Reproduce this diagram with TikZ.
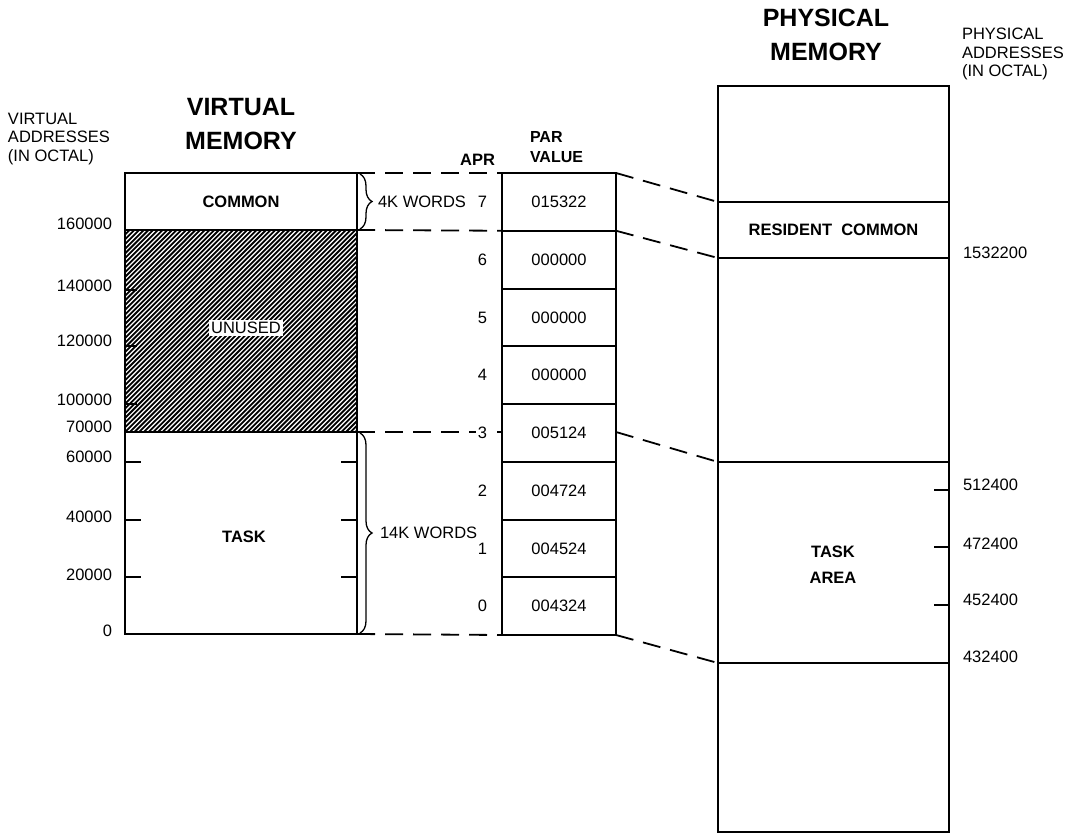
\documentclass[tikz,border=0pt]{standalone}
\usepackage{fontspec}
\setmainfont{Liberation Sans}
\usetikzlibrary{calc,decorations.pathreplacing}
\begin{document}
\begin{tikzpicture}[x=1pt,y=-1pt,
  every node/.style={inner sep=0pt, outer sep=0pt},
  txt/.style={font=\fontsize{16.5}{18}\selectfont},
  btxt/.style={font=\fontsize{16.5}{26}\selectfont\bfseries, align=center},
  head/.style={font=\fontsize{25}{34}\selectfont\bfseries, align=center},
  note/.style={font=\fontsize{16.5}{18.5}\selectfont, align=left},
  outer/.style={draw, line width=2.6pt},
  cell/.style={draw, line width=2pt, anchor=north west},
  conn/.style={line width=1.8pt, dash pattern=on 18pt off 10pt},
  tick/.style={line width=2pt},
  brc/.style={line width=1.3pt, decorate, decoration={brace, amplitude=12pt}}]
\useasboundingbox (0,0) rectangle (1067,837);

% ---------- virtual memory ----------
\node[cell, minimum width=232pt, minimum height=57pt] (common) at (125,173) {};
\node[cell, minimum width=232pt, minimum height=202pt] (unused) at (125,230) {};
\node[cell, minimum width=232pt, minimum height=202pt] (task) at (125,432) {};
\begin{scope}
  \clip (unused.south west) rectangle (unused.north east);
  \foreach \i in {0,...,95} {
    \draw[line width=1.8pt] ({125-202+\i*4.7},432) -- ++(202,-202);
  }
\end{scope}
\draw[outer] (common.north west) rectangle (task.south east);
\draw[line width=2pt] (common.south west) -- (common.south east);
\draw[line width=2pt] (task.north west) -- (task.north east);
\node[btxt] (commontxt) at (241,202) {COMMON};
\node[btxt, fill=white, inner sep=2pt] (unusedtxt) at (246,328) {\mdseries UNUSED};
\node[btxt] (tasktxt) at (244,537) {TASK};

% ticks
\foreach \yy in {290,346,404} \draw[tick] (125,\yy) -- (137,\yy);
\foreach \yy in {462,520,577} {
  \draw[tick] (125,\yy) -- (141,\yy);
  \draw[tick] (341,\yy) -- (357,\yy);
}

% virtual address labels
\foreach \t/\yy in {160000/224,140000/286,120000/341,100000/400,70000/427,60000/457,40000/517,20000/575,0/631}
  \node[txt, anchor=east] at (112,\yy) {\t};

\node[note, anchor=north west] (vaddr) at (8,113) {VIRTUAL\\ADDRESSES\\(IN OCTAL)};
\node[head] (vmem) at (241,124) {VIRTUAL\\MEMORY};

% ---------- PAR column ----------
\foreach \k/\v [count=\r from 0] in {7/015322,6/000000,5/000000,4/000000,3/005124,2/004724,1/004524,0/004324} {
  \node[cell, minimum width=114pt, minimum height=57.75pt, line width=2pt] (par\k) at (502,{173+57.75*\r}) {};
  \node[txt] (parv\k) at (par\k.center) {\v};
}
\draw[outer] (par7.north west) rectangle (par0.south east);

\node[btxt, anchor=east] (aprhd) at (495,160) {APR};
\node[btxt, anchor=north west, align=left, font=\fontsize{16}{20}\selectfont\bfseries] (parhd) at (530,131) {PAR\\VALUE};

% ---------- physical memory ----------
\node[cell, minimum width=231pt, minimum height=116pt] (phtop) at (718,86) {};
\node[cell, minimum width=231pt, minimum height=56pt] (rescommon) at (718,202) {};
\node[cell, minimum width=231pt, minimum height=204pt] (phmid) at (718,258) {};
\node[cell, minimum width=231pt, minimum height=201pt] (taskarea) at (718,462) {};
\node[cell, minimum width=231pt, minimum height=169pt] (phbot) at (718,663) {};
\draw[outer] (phtop.north west) rectangle (phbot.south east);
\node[btxt] at (rescommon.center) {RESIDENT\ \ COMMON};
\node[btxt] at (833,565) {TASK\\AREA};
\foreach \yy in {490,547,605} \draw[tick] (949,\yy) -- (934,\yy);

\foreach \t/\yy in {1532200/253,512400/485,472400/544,452400/600,432400/657}
  \node[txt, anchor=west] at (963,\yy) {\t};

\node[head] (pmem) at (826,35) {PHYSICAL\\MEMORY};
\node[note, anchor=north west] (paddr) at (962,28) {PHYSICAL\\ADDRESSES\\(IN OCTAL)};

% ---------- dashed connectors ----------
\draw[conn] (common.north east) -- (par7.north west);
\draw[conn] (common.south east) -- (par7.south west);
\draw[conn] (task.north east) -- (task.north east -| par3.west);
\draw[conn] (task.south east) -- (par0.south west);
\draw[conn] (par7.north east) -- (rescommon.north west);
\draw[conn] (par7.south east) -- (rescommon.south west);
\draw[conn] (task.north east -| par3.east) -- (taskarea.north west);
\draw[conn] (par0.south east) -- (taskarea.south west);

% APR numbers
\foreach \k [count=\r from 0] in {7,6,5,4,3,2,1,0}
  \node[txt, anchor=east, fill=white, inner xsep=2pt, inner ysep=0pt] (apr\k) at (489,{202+57.75*\r}) {\k};

% braces
\draw[brc] ($(common.north east)+(3,1)$) -- ($(common.south east)+(3,-1)$);
\draw[brc] ($(task.north east)+(3,1)$) -- ($(task.south east)+(3,-1)$);
\node[txt, anchor=west] (kw4) at (378,202) {4K\ WORDS};
\node[txt, anchor=west] (kw14) at (380,533) {14K\ WORDS};
\end{tikzpicture}
\end{document}
